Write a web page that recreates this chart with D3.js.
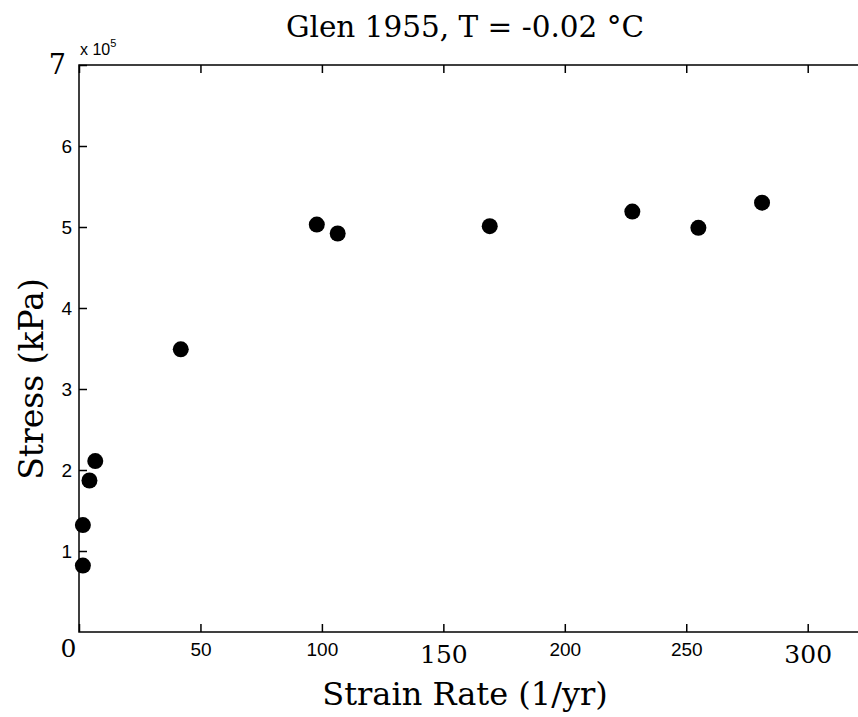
<!DOCTYPE html>
<html>
<head>
<meta charset="utf-8">
<script src="https://cdn.jsdelivr.net/npm/d3@7"></script>
<style>
  body { margin: 0; background: #fff; }
  svg { display: block; }
</style>
</head>
<body>
<div id="chart"></div>
<script>
// Glen 1955 data
const strainRate = [1.6, 1.6, 4.3, 6.7, 41.9, 97.9, 106.5, 169.1, 227.8, 255.0, 281.2];
const stress = [82000, 132000, 187000, 211000, 349000, 503000, 492000, 501000, 519000, 499000, 530000];

const xTicks = [0, 50, 100, 150, 200, 250, 300];
const yTicks = [100000, 200000, 300000, 400000, 500000, 600000, 700000];
const bigXTicks = [0, 150, 300]; // these labels are drawn larger in serif
const bigYTicks = [700000];

const width = 858,
      height = 717,
      margin = ({ top: 65, right: -8, bottom: 85, left: 79 });

const serif = "'DejaVu Serif', serif",
      sans = "'Liberation Sans', Arial, sans-serif";

let svg = d3.select("#chart")
    .append("svg")
    .attr("width", width)
    .attr("height", height)
    .attr("viewBox", [0, 0, width, height]);

let x = d3.scaleLinear()
    .domain([0, 324])
    .range([margin.left, width - margin.right]);

let y = d3.scaleLinear()
    .domain([0, 700000])
    .range([height - margin.bottom, margin.top]);

// box
svg.append("rect")
    .attr("x", x(0))
    .attr("y", y(700000))
    .attr("width", x(324) - x(0))
    .attr("height", y(0) - y(700000))
    .attr("fill", "none")
    .attr("stroke", "#000")
    .attr("stroke-width", 1.5);

// bottom axis
let xAxis = svg.append("g")
    .attr("transform", `translate(0,${y(0)})`)
    .call(d3.axisBottom(x).tickValues(xTicks).tickSizeInner(-8).tickSizeOuter(0).tickPadding(12));

// top ticks only
svg.append("g")
    .attr("transform", `translate(0,${y(700000)})`)
    .call(d3.axisTop(x).tickValues(xTicks).tickSizeInner(-8).tickSizeOuter(0).tickFormat(""));

// left axis
let yAxis = svg.append("g")
    .attr("transform", `translate(${x(0)},0)`)
    .call(d3.axisLeft(y).tickValues(yTicks).tickSizeInner(-8).tickSizeOuter(0).tickPadding(7)
        .tickFormat(d => d / 100000));

svg.selectAll(".domain").remove();
svg.selectAll(".tick line").attr("stroke", "#000").attr("stroke-width", 1.5);

xAxis.selectAll(".tick text")
    .style("font-family", d => bigXTicks.includes(d) ? serif : sans)
    .style("font-size", d => bigXTicks.includes(d) ? "25px" : "19px")
    .attr("dx", d => d === 0 ? -11 : 0)
    .attr("y", d => d === 0 ? 7 : (bigXTicks.includes(d) ? 13 : 11))
    .attr("fill", "#000");

yAxis.selectAll(".tick text")
    .style("font-family", d => bigYTicks.includes(d) ? serif : sans)
    .style("font-size", d => bigYTicks.includes(d) ? "27px" : "19px")
    .attr("x", d => bigYTicks.includes(d) ? -13 : -7)
    .attr("fill", "#000");

// exponent label
let expo = svg.append("text")
    .attr("x", x(0) + 1)
    .attr("y", y(700000) - 10)
    .style("font-family", sans)
    .style("font-size", "16px");
expo.append("tspan").text("x 10");
expo.append("tspan").text("5").attr("dy", -8).style("font-size", "11px");

// points
svg.selectAll(".pt")
    .data(strainRate)
    .join("circle")
    .attr("class", "pt")
    .attr("cx", d => x(d))
    .attr("cy", (d, i) => y(stress[i]))
    .attr("r", 8)
    .attr("fill", "#000");

// title and axis labels
svg.append("text")
    .attr("x", 465)
    .attr("y", 37)
    .attr("text-anchor", "middle")
    .style("font-family", serif)
    .style("font-size", "29.5px")
    .text("Glen 1955, T = -0.02 °C");

svg.append("text")
    .attr("x", 465)
    .attr("y", 705)
    .attr("text-anchor", "middle")
    .style("font-family", serif)
    .style("font-size", "32px")
    .text("Strain Rate (1/yr)");

svg.append("text")
    .attr("transform", `translate(43,379) rotate(-90)`)
    .attr("text-anchor", "middle")
    .style("font-family", serif)
    .style("font-size", "33px")
    .text("Stress (kPa)");
</script>
</body>
</html>
